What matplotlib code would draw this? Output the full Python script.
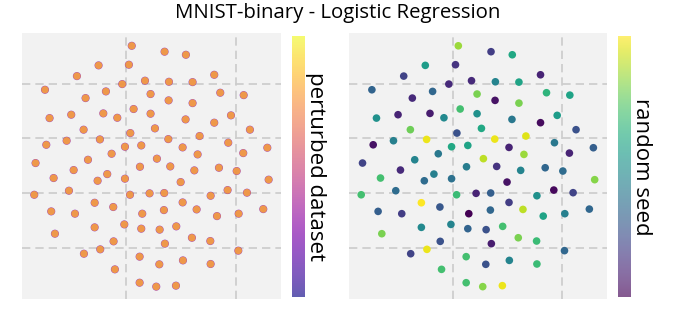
import matplotlib
matplotlib.use("Agg")
import matplotlib.pyplot as plt
import numpy as np

# embedding coordinates (same layout in both panels)
x = [0.5, 3.5, 5.45, -2.53, 0.24, -4.51, 8.04, -0.37, 1.71, 3.9,
     6.06, -7.43, -1.86, 2.22, 8.59, 10.73, -3.72, 3.87, 6.06, 0.67,
     -7.01, -5.03, -2.1, -0.82, 2.22, 5.42, 8.04, 9.57, -3.9, 0.37,
     2.62, 11.3, -7.31, -5.45, -2.41, -0.12, 1.37, 3.84, 5.15, 6.7,
     9.32, 12.89, -1.34, 6.52, 10.69, -8.29, -3.5, 2.8, -4.81, 1.25,
     4.02, 6.22, 8.47, 10.09, -6.64, -1.74, -2.62, -0.12, 4.97, 13.01,
     -8.41, -5.24, 0.34, 2.13, 3.47, 7.71, 9.26, 11.03, -2.89, -1.19,
     5.15, -6.86, -4.69, 1.46, 3.44, 6.43, 8.29, 10.27, 12.52, -0.18,
     -2.89, 1.37, 3.05, 4.57, -6.52, 6.0, 7.68, -1.16, 3.53, -2.38,
     -3.87, 10.24, 1.22, 3.02, 5.18, 7.71, -1.04, 1.22, 2.74, 4.54]
y = [18.46, 17.92, 17.64, 16.67, 16.73, 15.69, 15.81, 14.96, 15.27, 15.17,
     15.14, 14.44, 14.29, 14.05, 14.17, 13.95, 13.68, 13.47, 13.22, 12.68,
     11.85, 12.16, 12.28, 11.88, 12.25, 11.73, 11.43, 12.1, 10.79, 10.48,
     10.91, 10.79, 9.41, 9.78, 9.9, 9.23, 9.35, 9.93, 9.17, 10.21,
     9.6, 9.14, 8.59, 8.53, 8.65, 7.74, 8.04, 8.14, 7.1, 7.4,
     7.43, 7.07, 7.31, 7.01, 6.37, 6.73, 6.12, 6.31, 6.0, 6.22,
     4.84, 5.21, 4.84, 4.97, 5.0, 4.75, 5.27, 5.03, 4.11, 3.72,
     4.14, 3.32, 3.11, 3.11, 3.44, 3.5, 2.89, 3.11, 3.53, 2.13,
     1.86, 1.74, 1.65, 1.95, 1.28, 0.91, 0.61, 0.58, 0.37, -0.15,
     -0.55, -0.27, -0.82, -1.52, -1.16, -1.49, -1.98, -3.2, -3.56, -3.47]
seed = [85, 18, 60, 55, 15, 20, 10, 12, 12, 45,
        58, 32, 33, 80, 65, 58, 12, 5, 80, 70,
        50, 10, 8, 47, 50, 40, 3, 55, 78, 25,
        60, 25, 5, 43, 97, 60, 58, 97, 10, 95,
        40, 30, 40, 85, 10, 20, 45, 90, 12, 42,
        15, 45, 33, 35, 70, 43, 35, 37, 5, 82,
        70, 35, 68, 10, 30, 50, 2, 20, 100, 27,
        18, 30, 18, 0, 33, 90, 58, 43, 33, 45,
        47, 32, 25, 70, 80, 80, 68, 25, 8, 97,
        20, 33, 70, 25, 45, 68, 70, 70, 82, 97]
# earlier perturbed datasets sit underneath the last one (same positions)
dataset_under = [25] * len(x)
dataset_top = [80] * len(x)

title = "MNIST-binary - Logistic Regression"
labels = ["perturbed dataset", "random seed"]

plt.rcParams['font.family'] = ['Open Sans', 'DejaVu Sans']

fig = plt.figure(figsize=(6.75, 3.24), dpi=100)
fig.patch.set_facecolor("white")

ax_pos = [[22/675, 25/324, 259/675, 266/324], [349/675, 25/324, 258/675, 266/324]]
cb_pos = [[292/675, 27/324, 13/675, 261/324], [618/675, 27/324, 13/675, 261/324]]

for k in range(2):
    ax = fig.add_axes(ax_pos[k])
    ax.set_facecolor("#f2f2f2")
    if k == 0:
        ax.scatter(x, y, c=dataset_under, cmap="plasma", vmin=0, vmax=100,
                   s=34, alpha=0.7, linewidths=0, zorder=2)
        sc = ax.scatter(x, y, c=dataset_top, cmap="plasma", vmin=0, vmax=100,
                        s=28, alpha=0.85, linewidths=0, zorder=3)
    else:
        sc = ax.scatter(x, y, c=seed, cmap="viridis", vmin=0, vmax=100,
                        s=30, linewidths=0, zorder=3)
    ax.set_xlim(-9.53, 14.14)
    ax.set_ylim(-4.69, 19.63)
    ax.set_xticks([0, 10])
    ax.set_yticks([0, 5, 10, 15])
    ax.tick_params(length=0, labelbottom=False, labelleft=False)
    ax.grid(True, color="#cbcbcb", linestyle=(0, (5, 3)), linewidth=1.2, zorder=1)
    ax.set_axisbelow(True)
    for s in ax.spines.values():
        s.set_visible(False)

    cax = fig.add_axes(cb_pos[k])
    cb = fig.colorbar(sc, cax=cax)
    cb.solids.set_alpha(0.65)
    cb.outline.set_visible(False)
    cb.set_ticks([])
    cb.set_label(labels[k], rotation=270, fontsize=16, labelpad=15)

fig.suptitle(title, fontsize=14.7, y=0.99)
fig.savefig("out.png", dpi=100)
